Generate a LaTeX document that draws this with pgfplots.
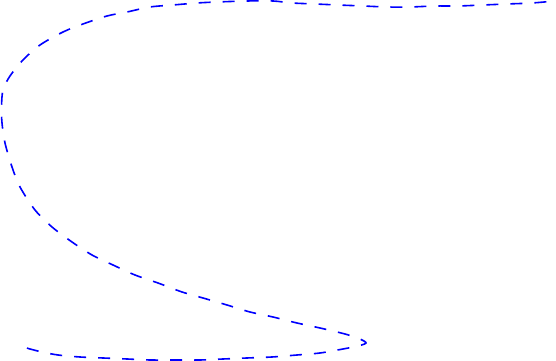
\documentclass[border=0pt]{standalone}
\usepackage{pgfplots}
\pgfplotsset{compat=1.18}
\begin{document}
\begin{tikzpicture}
\begin{axis}[
  at={(0,0)}, anchor=south west,
  scale only axis,
  width=139pt, height=90.25pt,
  xmin=0, xmax=556, ymin=0, ymax=361,
  hide axis, clip=false,
  y dir=reverse,
]
\addplot[blue, dashed, smooth, no marks] coordinates {
(27,348)(30,349)(42,352)(58,355)(80,357)(103,358)(127,359)(150,360)(175,360)(200,360)
(223,359)(247,358)(272,357)(297,355)(320,353)(343,349)(358,346)(366,343)(360,339)
(345,334)(320,328)(297,323)(273,317)(250,312)(227,305)(203,298)(182,292)(158,283)
(135,275)(113,265)(92,255)(72,242)(52,227)(35,210)(20,187)(12,167)(5,143)(2,123)
(1.5,107)(3,90)(10,76)(23,60)(40,45)(63,32)(83,24)(107,16)(127,12)(150,7)(173,5)
(197,3)(217,2)(247,1)(273,1)(292,3)(315,4)(338,5)(363,6)(387,7)(410,7)(435,6)
(458,6)(483,5)(507,4)(532,3)(555,1)
};
\end{axis}
\pgfresetboundingbox
\useasboundingbox (0,0) rectangle (139pt,90.25pt);
\end{tikzpicture}
\end{document}
